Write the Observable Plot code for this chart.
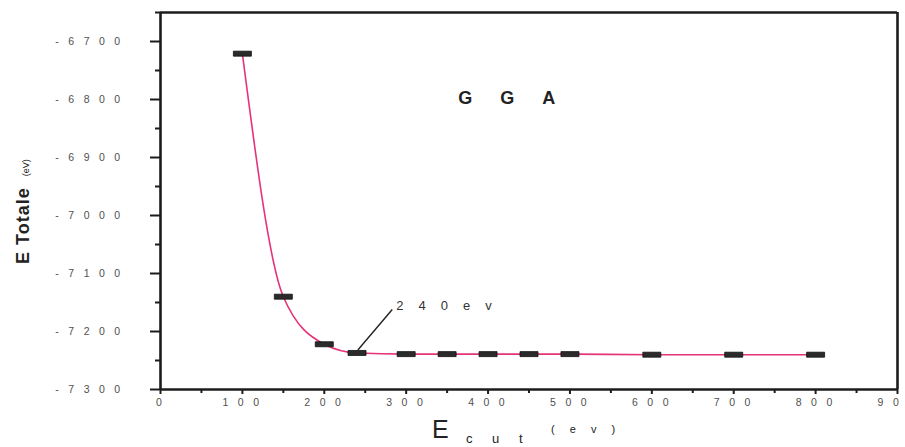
<!DOCTYPE html>
<html>
<head>
<meta charset="utf-8">
<script src="https://cdn.jsdelivr.net/npm/d3@7"></script>
<script src="https://cdn.jsdelivr.net/npm/@observablehq/plot@0.6"></script>
<style>
  body { margin: 0; background: #fff; }
  #chart svg { font-family: Arial, "Liberation Sans", sans-serif; overflow: hidden; }
  #chart g[aria-label="y-axis tick label"] text,
  #chart g[aria-label="x-axis tick label"] text { fill: #4f4f4f; letter-spacing: 3.3px; }
  #chart text[aria-label="callout label"] { letter-spacing: 15px; }
  #chart text[aria-label="method label"] { letter-spacing: 28px; }
</style>
</head>
<body>
<div id="chart"></div>
<script>
// Plane-wave cutoff energy (eV) and total energy (eV), GGA
const cutoff = [100, 150, 200, 240, 300, 350, 400, 450, 500, 600, 700, 800];
const energy = [-6721, -7140, -7222, -7237, -7239, -7239, -7239, -7239, -7239, -7240, -7240, -7240];

// Axis ticks
const yTicks = [-6700, -6800, -6900, -7000, -7100, -7200, -7300];
const yMinor = [-6650, -6750, -6850, -6950, -7050, -7150, -7250];
const xTicks = [0, 100, 200, 300, 400, 500, 600, 700, 800, 900];
const xMinor = [50, 150, 250, 350, 450, 550, 650, 750, 850];

// Converged cutoff and method label
const chosenCutoff = 240;
const methodLabel = "GGA";

const xDomain = [0, 900];
const yDomain = [-7300, -6650];

const points = cutoff.map((c, i) => ({cutoff: c, energy: energy[i]}));
const chosen = points.find(d => d.cutoff === chosenCutoff);

// spaced-out digits, as in the printed axes
const spaced = d => Array.from(String(d)).join(" ");

// flat bar used as the point marker
const barSymbol = {
  draw(ctx) { ctx.rect(-9, -2.5, 18, 5); }
};

const ink = "#1c1c1c";

const chart = Plot.plot({
  width: 905,
  height: 447,
  marginLeft: 160,
  marginRight: 8,
  marginTop: 12,
  marginBottom: 58,
  x: {domain: xDomain},
  y: {domain: yDomain},
  marks: [
    // box around the plotting area
    Plot.ruleX(xDomain, {stroke: ink, strokeWidth: 2.6}),
    Plot.ruleY(yDomain, {stroke: ink, strokeWidth: 2.6}),
    Plot.axisY(yTicks, {anchor: "left", tickSize: 10, tickPadding: 27, strokeWidth: 2, stroke: ink,
      fontSize: 10.5, tickFormat: spaced, label: null}),
    Plot.axisY(yMinor, {anchor: "left", tickSize: 5, strokeWidth: 2, stroke: ink, fill: "none", label: null}),
    Plot.axisX(xTicks, {anchor: "bottom", tickSize: 5, tickPadding: 4, strokeWidth: 2, stroke: ink,
      fontSize: 10.5, tickFormat: spaced, label: null}),
    Plot.axisX(xMinor, {anchor: "bottom", tickSize: 4, strokeWidth: 2, stroke: ink, fill: "none", label: null}),
    Plot.line(points, {x: "cutoff", y: "energy", curve: "monotone-x", stroke: "#e5337a", strokeWidth: 1.6}),
    Plot.dot(points, {x: "cutoff", y: "energy", symbol: barSymbol, fill: "#2b2b2b", stroke: "#111", strokeWidth: 0.8}),
    // callout for the converged cutoff
    Plot.link([chosen], {x1: d => d.cutoff + 1, y1: d => d.energy + 5, x2: d => d.cutoff + 43, y2: d => d.energy + 75,
      stroke: "#222", strokeWidth: 1.4}),
    Plot.text([chosen], {x: d => d.cutoff + 48, y: d => d.energy + 82, text: d => `${d.cutoff}ev`,
      textAnchor: "start", fontSize: 13, fill: "#333", ariaLabel: () => "callout label"}),
    Plot.text([methodLabel], {x: 440, y: -6798, text: d => d, fontSize: 18, fontWeight: "bold",
      fill: "#222", ariaLabel: () => "method label"})
  ]
});

document.getElementById("chart").append(chart);

// axis titles
const svg = d3.select(chart);
const yTitle = svg.append("text")
  .attr("transform", "translate(29,264) rotate(-90)")
  .attr("text-anchor", "start")
  .attr("fill", "#222");
yTitle.append("tspan").attr("font-size", 18).attr("font-weight", "bold").attr("letter-spacing", "1px").text("E Totale");
yTitle.append("tspan").attr("font-size", 9).attr("dx", 11).text("(eV)");

const xTitle = svg.append("text").attr("text-anchor", "start").attr("fill", "#222");
xTitle.append("tspan").attr("x", 432).attr("y", 438).attr("font-size", 25).text("E");
xTitle.append("tspan").attr("x", 466).attr("y", 443).attr("font-size", 13).attr("letter-spacing", "8px").text("c u t");
xTitle.append("tspan").attr("x", 551).attr("y", 433).attr("font-size", 11).attr("letter-spacing", "6px").text("( e v )");
</script>
</body>
</html>
